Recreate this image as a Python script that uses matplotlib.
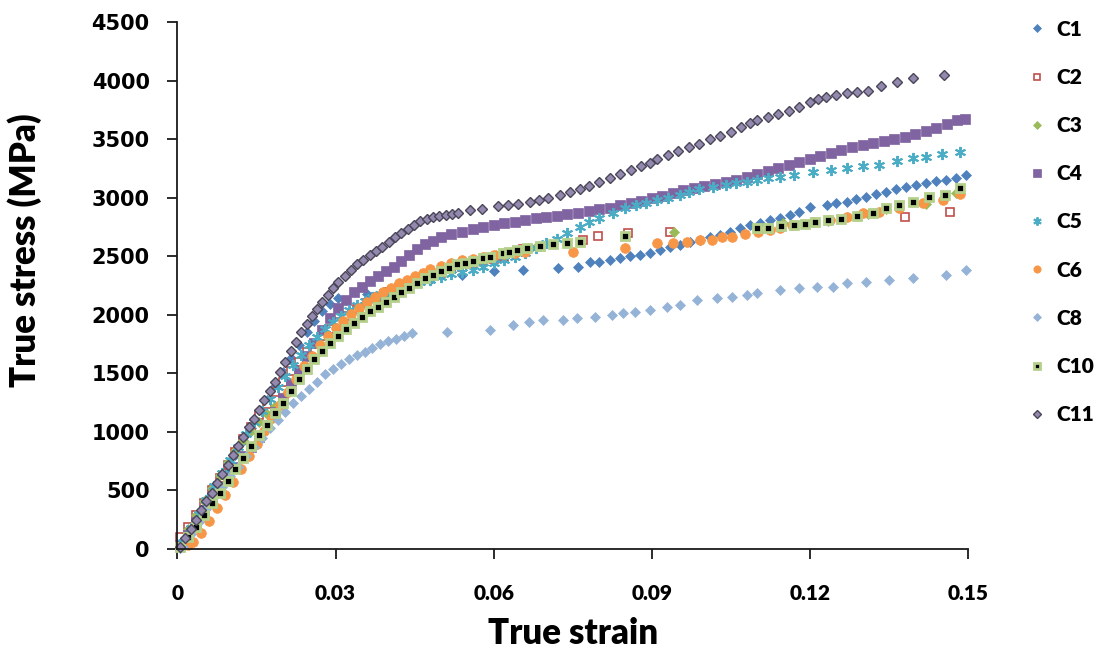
import matplotlib
matplotlib.use("Agg")
import matplotlib.pyplot as plt
from matplotlib import font_manager

names = {f.name for f in font_manager.fontManager.ttflist}
LAB = 'Lato' if 'Lato' in names else 'DejaVu Sans'

# ---------------- data ----------------
c1_x = [0.0005, 0.002, 0.0035, 0.005, 0.0065, 0.008, 0.0095, 0.011, 0.0125, 0.014, 0.0155, 0.017, 0.0185,
        0.020, 0.0215, 0.023, 0.0245, 0.026, 0.0275, 0.029, 0.0305, 0.036, 0.042, 0.048, 0.054, 0.060,
        0.0656, 0.0722, 0.076, 0.0782, 0.080, 0.082, 0.0839, 0.0858, 0.0877, 0.0896, 0.0915, 0.0934, 0.0953,
        0.0972, 0.0991, 0.101, 0.1029, 0.1048, 0.1067, 0.1086, 0.1105, 0.1124, 0.1143, 0.1162, 0.118, 0.120,
        0.1232, 0.125, 0.127, 0.1288, 0.1307, 0.1326, 0.1345, 0.1364, 0.1383, 0.1402, 0.142, 0.144, 0.1459,
        0.1478, 0.1497]
c1_y = [10, 120, 230, 340, 460, 570, 690, 800, 920, 1030, 1150, 1270, 1390,
        1510, 1630, 1740, 1850, 1950, 2030, 2090, 2140, 2180, 2250, 2300, 2340, 2370,
        2383, 2400, 2408, 2451, 2451, 2470, 2485, 2500, 2511, 2530, 2553, 2575, 2596,
        2620, 2639, 2660, 2681, 2710, 2741, 2765, 2784, 2805, 2827, 2850, 2878, 2921,
        2938, 2950, 2963, 2985, 3006, 3028, 3049, 3070, 3091, 3110, 3126, 3140, 3151,
        3170, 3190]

c2_x = [0.0005, 0.002, 0.0035, 0.005, 0.0065, 0.008, 0.0095, 0.011, 0.0125, 0.014, 0.0155, 0.017, 0.0185,
        0.020, 0.0215, 0.023, 0.0245, 0.026, 0.0275, 0.029, 0.0305, 0.032, 0.034, 0.036, 0.038, 0.040,
        0.042, 0.044, 0.046, 0.048, 0.050, 0.052, 0.054, 0.056, 0.058, 0.060, 0.062, 0.0655, 0.0769,
        0.0798, 0.0855, 0.0934, 0.138, 0.1465]
c2_y = [100, 190, 290, 390, 500, 610, 720, 830, 940, 1040, 1140, 1240, 1340,
        1430, 1520, 1600, 1680, 1750, 1820, 1880, 1940, 1990, 2050, 2100, 2150, 2190,
        2230, 2270, 2300, 2330, 2360, 2390, 2410, 2430, 2455, 2475, 2495, 2560, 2639,
        2673, 2698, 2707, 2835, 2878]

c3_x = [0.0005, 0.002, 0.0035, 0.005, 0.0065, 0.008, 0.0095, 0.011, 0.0125, 0.014, 0.0155, 0.017, 0.0185,
        0.020, 0.0215, 0.023, 0.0245, 0.026, 0.0275, 0.029, 0.0305, 0.032, 0.0335, 0.035, 0.0365, 0.038,
        0.0395, 0.041, 0.0425, 0.044, 0.0455, 0.047, 0.0485, 0.050, 0.0515, 0.053, 0.0545, 0.056, 0.0575,
        0.059, 0.0605, 0.062, 0.0635, 0.065, 0.0665, 0.068, 0.0943, 0.1149, 0.1235, 0.1289, 0.131, 0.1345,
        0.137, 0.142, 0.1478]
c3_y = [40, 170, 290, 410, 520, 630, 740, 840, 930, 1010, 1080, 1150, 1220,
        1300, 1380, 1460, 1550, 1630, 1700, 1770, 1840, 1900, 1950, 2000, 2050, 2090,
        2130, 2170, 2210, 2250, 2285, 2320, 2350, 2380, 2405, 2425, 2445, 2460, 2480,
        2495, 2510, 2525, 2540, 2555, 2570, 2580, 2707, 2784, 2800, 2840, 2860, 2900,
        2920, 2945, 3040]

c4_x = [0.0005, 0.002, 0.0035, 0.005, 0.0065, 0.008, 0.0095, 0.011, 0.0125, 0.014, 0.0155, 0.017, 0.0185,
        0.020, 0.0215, 0.023, 0.0245, 0.026, 0.0275, 0.029, 0.0305, 0.032, 0.0335, 0.035, 0.0365, 0.038,
        0.0395, 0.041, 0.0425, 0.044, 0.0455, 0.047, 0.0485, 0.050, 0.052, 0.054, 0.056, 0.058, 0.060,
        0.062, 0.064, 0.066, 0.068, 0.070, 0.072, 0.074, 0.076, 0.078, 0.080, 0.082, 0.084, 0.086, 0.088,
        0.090, 0.092, 0.094, 0.096, 0.098, 0.100, 0.102, 0.104, 0.106, 0.108, 0.110, 0.112, 0.114, 0.116,
        0.118, 0.120, 0.122, 0.124, 0.126, 0.128, 0.130, 0.132, 0.134, 0.136, 0.138, 0.140, 0.142, 0.144,
        0.146, 0.148, 0.1495]
c4_y = [30, 120, 230, 330, 430, 520, 610, 700, 790, 870, 960, 1060, 1170,
        1290, 1410, 1530, 1650, 1760, 1870, 1970, 2060, 2130, 2190, 2240, 2290, 2330,
        2370, 2410, 2460, 2510, 2560, 2600, 2630, 2660, 2690, 2710, 2730, 2750, 2765,
        2780, 2795, 2810, 2825, 2835, 2845, 2860, 2870, 2885, 2900, 2915, 2935, 2955, 2975,
        2995, 3015, 3040, 3065, 3085, 3100, 3115, 3130, 3150, 3175, 3200, 3225, 3255, 3280,
        3305, 3330, 3355, 3380, 3410, 3430, 3450, 3465, 3480, 3500, 3520, 3540, 3565, 3595,
        3625, 3660, 3675]

c5_x = [0.001, 0.0025, 0.004, 0.0055, 0.007, 0.0085, 0.010, 0.0115, 0.013, 0.0145, 0.016, 0.0175, 0.019,
        0.0205, 0.022, 0.0235, 0.025, 0.0265, 0.028, 0.0295, 0.031, 0.0325, 0.034, 0.0355, 0.037, 0.0385,
        0.040, 0.042, 0.044, 0.046, 0.048, 0.050, 0.052, 0.054, 0.056, 0.058, 0.060, 0.062, 0.064, 0.066,
        0.068, 0.070, 0.072, 0.074, 0.0763, 0.078, 0.080, 0.0826, 0.085, 0.087, 0.089, 0.091, 0.093, 0.0953,
        0.097, 0.099, 0.1016, 0.104, 0.106, 0.108, 0.110, 0.112, 0.1143, 0.117, 0.1206, 0.124, 0.127, 0.130,
        0.1332, 0.1365, 0.1395, 0.142, 0.145, 0.1484]
c5_y = [60, 180, 300, 420, 540, 650, 760, 870, 980, 1080, 1180, 1280, 1380,
        1480, 1570, 1660, 1740, 1810, 1880, 1940, 1990, 2040, 2080, 2120, 2150, 2180,
        2200, 2230, 2255, 2280, 2300, 2320, 2345, 2365, 2385, 2410, 2440, 2470, 2495, 2530,
        2570, 2613, 2650, 2700, 2750, 2790, 2830, 2869, 2910, 2940, 2955, 2980, 3000, 3023,
        3045, 3070, 3091, 3110, 3125, 3134, 3150, 3165, 3177, 3195, 3220, 3240, 3254, 3270,
        3279, 3310, 3339, 3350, 3370, 3390]

c6_x = [0.002, 0.003, 0.0045, 0.006, 0.0075, 0.009, 0.0105, 0.012, 0.0135, 0.015, 0.0165, 0.018, 0.0195,
        0.021, 0.0225, 0.024, 0.0255, 0.027, 0.0285, 0.030, 0.0315, 0.033, 0.0345, 0.036, 0.0375, 0.039,
        0.0405, 0.042, 0.0435, 0.045, 0.0465, 0.048, 0.050, 0.052, 0.054, 0.056, 0.058, 0.060, 0.062,
        0.064, 0.066, 0.075, 0.0849, 0.091, 0.094, 0.0966, 0.0991, 0.1014, 0.1033, 0.1052, 0.1076, 0.1101,
        0.1124, 0.1143, 0.1167, 0.1206, 0.1238, 0.127, 0.1301, 0.1332, 0.137, 0.1414, 0.1452, 0.1484]
c6_y = [30, 60, 140, 240, 350, 460, 570, 680, 790, 900, 1010, 1120, 1230,
        1340, 1450, 1560, 1650, 1740, 1820, 1890, 1950, 2010, 2060, 2110, 2150, 2190,
        2230, 2270, 2300, 2330, 2360, 2390, 2420, 2445, 2465, 2480, 2495, 2510, 2520,
        2530, 2540, 2536, 2570, 2613, 2613, 2622, 2639, 2639, 2664, 2664, 2690, 2707,
        2724, 2741, 2767, 2793, 2810, 2835, 2869, 2878, 2912, 2955, 2980, 3030]

c8_x = [0.001, 0.0025, 0.004, 0.0055, 0.007, 0.0085, 0.010, 0.0115, 0.013, 0.0145, 0.016, 0.0175, 0.019,
        0.0205, 0.022, 0.0235, 0.025, 0.0265, 0.028, 0.0295, 0.031, 0.0325, 0.034, 0.0355, 0.037, 0.0385,
        0.040, 0.0415, 0.043, 0.0445, 0.0511, 0.0593, 0.0636, 0.0668, 0.0693, 0.0731, 0.0758, 0.0792,
        0.0824, 0.0845, 0.0868, 0.0896, 0.0928, 0.0953, 0.0985, 0.1023, 0.1053, 0.108, 0.1099, 0.1143,
        0.118, 0.1213, 0.1243, 0.127, 0.1307, 0.1351, 0.1395, 0.1459, 0.1497]
c8_y = [20, 130, 230, 340, 440, 530, 620, 700, 790, 870, 950, 1030, 1100,
        1170, 1250, 1310, 1370, 1430, 1490, 1540, 1580, 1620, 1655, 1685, 1715, 1750,
        1775, 1795, 1815, 1840, 1853, 1870, 1913, 1939, 1956, 1956, 1973, 1981,
        1998, 2015, 2024, 2041, 2066, 2084, 2126, 2143, 2152, 2169, 2186, 2212,
        2229, 2237, 2237, 2272, 2280, 2297, 2314, 2340, 2383]

c10_x = [0.0005, 0.002, 0.0035, 0.005, 0.0065, 0.008, 0.0095, 0.011, 0.0125, 0.014, 0.0155, 0.017, 0.0185,
         0.020, 0.0215, 0.023, 0.0245, 0.026, 0.0275, 0.029, 0.0305, 0.032, 0.0335, 0.035, 0.0365, 0.038,
         0.0395, 0.041, 0.0425, 0.044, 0.0455, 0.047, 0.0485, 0.050, 0.0515, 0.053, 0.0545, 0.056, 0.058,
         0.0593, 0.0618, 0.063, 0.0644, 0.0663, 0.0688, 0.0713, 0.0739, 0.0763, 0.0849, 0.1099, 0.112,
         0.1145, 0.117, 0.119, 0.121, 0.1235, 0.126, 0.1289, 0.1319, 0.1345, 0.137, 0.1395, 0.1427, 0.1456,
         0.1484]
c10_y = [20, 100, 190, 290, 390, 480, 580, 680, 780, 880, 970, 1060, 1160,
         1250, 1350, 1450, 1540, 1620, 1690, 1760, 1820, 1880, 1930, 1980, 2030, 2070,
         2110, 2150, 2190, 2230, 2270, 2310, 2340, 2370, 2400, 2430, 2445, 2460, 2485,
         2494, 2528, 2536, 2553, 2570, 2585, 2605, 2613, 2620, 2673, 2741, 2745,
         2760, 2770, 2775, 2790, 2810, 2815, 2844, 2869, 2912, 2938, 2963, 3006, 3023,
         3083]

c11_x = [0.0005, 0.0015, 0.0025, 0.0035, 0.0045, 0.0055, 0.0065, 0.0075, 0.0085, 0.0095, 0.0105, 0.0115,
         0.0125, 0.0135, 0.0145, 0.0155, 0.0165, 0.0175, 0.0185, 0.0195, 0.0205, 0.0215, 0.0225, 0.0235,
         0.0245, 0.0255, 0.0265, 0.0275, 0.0285, 0.0295, 0.0305, 0.0317, 0.0329, 0.0341, 0.0353, 0.0365,
         0.0377, 0.0389, 0.0401, 0.0413, 0.0425, 0.0437, 0.0449, 0.0461, 0.0473, 0.0485, 0.0497, 0.0509,
         0.0521, 0.0533, 0.0555, 0.0578, 0.0608, 0.0627, 0.0646, 0.0669, 0.0686, 0.0703, 0.0725, 0.0745,
         0.0763, 0.078, 0.080, 0.082, 0.084, 0.086, 0.088, 0.0896, 0.091, 0.093, 0.095, 0.097, 0.099, 0.101,
         0.103, 0.105, 0.107, 0.1086, 0.110, 0.112, 0.114, 0.116, 0.118, 0.120, 0.1215, 0.123, 0.125, 0.127,
         0.129, 0.131, 0.1335, 0.1365, 0.1395, 0.1455]
c11_y = [15, 90, 170, 250, 330, 410, 480, 560, 640, 720, 800, 880,
         960, 1040, 1110, 1190, 1270, 1350, 1430, 1510, 1600, 1690, 1770, 1850,
         1920, 1990, 2050, 2110, 2170, 2230, 2280, 2330, 2380, 2430, 2470, 2510,
         2545, 2580, 2620, 2660, 2700, 2735, 2770, 2800, 2820, 2835, 2845, 2855,
         2860, 2870, 2895, 2900, 2929, 2935, 2946, 2963, 2980, 2997, 3020, 3045,
         3075, 3100, 3130, 3165, 3200, 3235, 3270, 3296, 3330, 3365, 3400, 3430, 3460, 3500,
         3530, 3560, 3600, 3638, 3660, 3690, 3710, 3740, 3775, 3820, 3840, 3860, 3880, 3895,
         3900, 3910, 3950, 3990, 4020, 4045]

x_ticks = [0, 0.03, 0.06, 0.09, 0.12, 0.15]
x_tick_labels = ['0', '0.03', '0.06', '0.09', '0.12', '0.15']
y_ticks = [0, 500, 1000, 1500, 2000, 2500, 3000, 3500, 4000, 4500]

series = [
    ('C1', c1_x, c1_y, dict(marker='D', ms=5.2, mfc='#4F81BD', mec='#4F81BD', mew=0.5)),
    ('C2', c2_x, c2_y, dict(marker='s', ms=6.2, mfc='white', mec='#C0504D', mew=1.2)),
    ('C3', c3_x, c3_y, dict(marker='D', ms=5.4, mfc='#9BBB59', mec='#9BBB59', mew=0.5)),
    ('C4', c4_x, c4_y, dict(marker='s', ms=7.2, mfc='#8064A2', mec='#8064A2', mew=0.5)),
    ('C5', c5_x, c5_y, dict(marker=(6, 2, 0), ms=8.0, mfc='#4BACC6', mec='#4BACC6', mew=1.4)),
    ('C6', c6_x, c6_y, dict(marker='o', ms=7.0, mfc='#F79646', mec='#F79646', mew=0.5)),
    ('C8', c8_x, c8_y, dict(marker='D', ms=5.3, mfc='#95B3D7', mec='#95B3D7', mew=0.5)),
    ('C10', c10_x, c10_y, dict(marker='s', ms=6.0, mfc='black', mec='#B4D08A', mew=2.0)),
    ('C11', c11_x, c11_y, dict(marker='D', ms=5.4, mfc='#9388AE', mec='#4A4658', mew=1.0)),
]

fig = plt.figure(figsize=(11.07, 6.58), dpi=100)
ax = fig.add_axes([0.1603, 0.1657, 0.8744 - 0.1603, 0.9666 - 0.1657])

for name, xs, ys, st in series:
    ax.plot(xs, ys, linestyle='none', label=name, clip_on=False, **st)

ax.set_xlim(0, 0.15)
ax.set_ylim(0, 4500)
ax.set_xticks(x_ticks)
ax.set_xticklabels(x_tick_labels)
ax.set_yticks(y_ticks)
for s in ['top', 'right']:
    ax.spines[s].set_visible(False)
for s in ['left', 'bottom']:
    ax.spines[s].set_color('#1a1a1a')
    ax.spines[s].set_linewidth(1.3)
ax.tick_params(axis='both', direction='out', length=7, width=1.3, color='#1a1a1a')
ax.tick_params(axis='x', pad=18)
ax.tick_params(axis='y', pad=13)
for lab in ax.get_xticklabels():
    lab.set_fontfamily(LAB)
    lab.set_fontweight('heavy')
    lab.set_fontsize(15)
for lab in ax.get_yticklabels():
    lab.set_fontfamily('DejaVu Sans')
    lab.set_fontweight('bold')
    lab.set_fontsize(15)

ax.set_xlabel('True strain', fontfamily=LAB, fontweight='heavy', fontsize=25, labelpad=10)
ax.set_ylabel('True stress (MPa)', fontfamily=LAB, fontweight='heavy', fontsize=25)
ax.yaxis.set_label_coords(-0.171, 0.567)

leg = ax.legend(loc='upper left', bbox_to_anchor=(1.065, 1.02), frameon=False,
                prop={'family': LAB, 'weight': 'heavy', 'size': 15},
                labelspacing=1.4, handlelength=0.9, handletextpad=0.5, markerscale=0.75,
                borderaxespad=0)

fig.savefig('out.png', dpi=100)
